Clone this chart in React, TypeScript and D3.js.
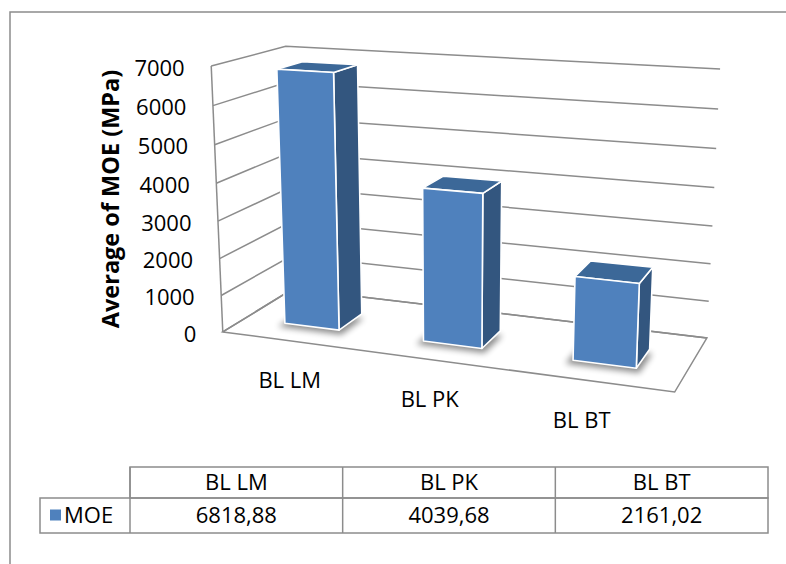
import React from "react";
import * as d3 from "d3";

const categories = ["BL LM", "BL PK", "BL BT"];
const moeValues = [6818.88, 4039.68, 2161.02];
const moeLabels = ["6818,88", "4039,68", "2161,02"];
const seriesName = "MOE";
const yMax = 7000;
const yTitle = "Average of MOE (MPa)";

const W = 786;
const H = 564;
const FONT = "'Open Sans', 'Liberation Sans', sans-serif";
const GRID = "#8c8c8c";

// screen position of the corners of the 3-D plot box
// [u (category axis 0..1), v (value 0..1), w (depth, 0 front .. 1 back), x, y]
const boxCorners = [
  [0, 0, 0, 222.7, 330.7],
  [0, 1, 0, 211, 66.7],
  [1, 0, 0, 675, 392.7],
  [0, 0, 1, 293, 290],
  [0, 1, 1, 286, 45.7],
  [1, 0, 1, 706.7, 337.3],
  [1, 1, 1, 720, 69],
];

// least squares fit of a 3x4 projective matrix (DLT), m34 = 1
function fitProjection(pts: number[][]) {
  const n = 11;
  const N = Array.from({ length: n }, () => new Array(n + 1).fill(0));
  const add = (row: number[], b: number) => {
    for (let i = 0; i < n; i++) {
      for (let j = 0; j < n; j++) N[i][j] += row[i] * row[j];
      N[i][n] += row[i] * b;
    }
  };
  pts.forEach(([X, Y, Z, px, py]) => {
    const x = px / 100, y = py / 100;
    add([X, Y, Z, 1, 0, 0, 0, 0, -x * X, -x * Y, -x * Z], x);
    add([0, 0, 0, 0, X, Y, Z, 1, -y * X, -y * Y, -y * Z], y);
  });
  for (let c = 0; c < n; c++) {
    let p = c;
    for (let r = c + 1; r < n; r++) if (Math.abs(N[r][c]) > Math.abs(N[p][c])) p = r;
    [N[c], N[p]] = [N[p], N[c]];
    for (let r = 0; r < n; r++) {
      if (r === c) continue;
      const f = N[r][c] / N[c][c];
      for (let k = c; k <= n; k++) N[r][k] -= f * N[c][k];
    }
  }
  const m = N.map((row, i) => row[n] / row[i]);
  return (u: number, v: number, w: number): [number, number] => {
    const d = m[8] * u + m[9] * v + m[10] * w + 1;
    return [
      (100 * (m[0] * u + m[1] * v + m[2] * w + m[3])) / d,
      (100 * (m[4] * u + m[5] * v + m[6] * w + m[7])) / d,
    ];
  };
}

const P = fitProjection(boxCorners);
const poly = (pts: [number, number][]) => pts.map((p) => p.join(",")).join(" ");

export default function App() {
  const x = d3.scaleBand<string>().domain(categories).range([0, 1]).paddingInner(0.6).paddingOuter(0.3);
  const y = d3.scaleLinear().domain([0, yMax]).range([0, 1]);
  const ticks = y.ticks(7);
  const wFront = 0.3;
  const wBack = 0.66;

  // data table
  const tblTop = 467, tblMid = 498, tblBot = 533;
  const tblLeft = 40, tblHead = 130, tblRight = 768;
  const col = d3.scaleBand<string>().domain(categories).range([tblHead, tblRight]);

  return (
    <svg width={W} height={H} style={{ position: "absolute", left: 0, top: 0, background: "#fff" }}>
      <defs>
        <filter id="shadow" x="-50%" y="-50%" width="200%" height="200%">
          <feGaussianBlur stdDeviation="3" />
        </filter>
      </defs>
      <rect x={10} y={12} width={800} height={600} fill="#fff" stroke={GRID} strokeWidth={1.5} />

      {/* walls and gridlines */}
      <g stroke={GRID} strokeWidth={1.5} fill="none">
        <polygon points={poly([P(0, 0, 0), P(1, 0, 0), P(1, 0, 1), P(0, 0, 1)])} fill="#fff" />
        {ticks.map((t) => (
          <polyline key={t} points={poly([P(0, y(t), 0), P(0, y(t), 1), P(1, y(t), 1)])} />
        ))}
        <line x1={P(0, 0, 0)[0]} y1={P(0, 0, 0)[1]} x2={P(0, 1, 0)[0]} y2={P(0, 1, 0)[1]} />
      </g>

      {/* tick labels */}
      <g fontFamily={FONT} fontSize={22} textAnchor="end">
        {ticks.map((t) => {
          const [px, py] = P(0, y(t), 0);
          return (
            <text key={t} x={px - 26.5} y={py + 2} dy="0.35em">
              {t}
            </text>
          );
        })}
      </g>
      <text
        transform="translate(111,199) rotate(-90)"
        textAnchor="middle"
        dy="0.35em"
        fontFamily={FONT}
        fontSize={23.5}
        fontWeight="bold"
      >
        {yTitle}
      </text>

      {/* bars */}
      {categories.map((c, i) => {
        const u0 = x(c)!;
        const u1 = u0 + x.bandwidth();
        const v = y(moeValues[i]);
        const shadow = [P(u0 - 0.012, 0, wFront), P(u1 + 0.01, 0, wFront), P(u1 + 0.01, 0, wBack), P(u0 - 0.012, 0, wBack)]
          .map(([a, b]) => [a - 2, b + 4] as [number, number]);
        return (
          <g key={c}>
            <polygon points={poly(shadow)} fill="#000" opacity={0.45} filter="url(#shadow)" />
            <g stroke="#fff" strokeWidth={1.6} strokeLinejoin="round">
              <polygon points={poly([P(u1, 0, wFront), P(u1, 0, wBack), P(u1, v, wBack), P(u1, v, wFront)])} fill="#33567f" />
              <polygon points={poly([P(u0, v, wFront), P(u1, v, wFront), P(u1, v, wBack), P(u0, v, wBack)])} fill="#3c6898" />
              <polygon points={poly([P(u0, 0, wFront), P(u1, 0, wFront), P(u1, v, wFront), P(u0, v, wFront)])} fill="#4f81bd" />
            </g>
          </g>
        );
      })}

      {/* category labels, hung below the front edge of the floor */}
      <g fontFamily={FONT} fontSize={22} textAnchor="middle">
        {categories.map((c) => {
          const uc = x(c)! + x.bandwidth() / 2;
          const [px, py] = P(uc, 0, 0);
          return (
            <text key={c} x={px + 1 - 13 * uc} y={py + 39} dy="0.35em">
              {c}
            </text>
          );
        })}
      </g>

      {/* data table */}
      <g stroke={GRID} strokeWidth={1.5} fill="none">
        <rect x={tblHead} y={tblTop} width={tblRight - tblHead} height={tblMid - tblTop} />
        <rect x={tblLeft} y={tblMid} width={tblRight - tblLeft} height={tblBot - tblMid} />
        {categories.map((c) => (
          <line key={c} x1={col(c)!} y1={tblTop} x2={col(c)!} y2={tblBot} />
        ))}
      </g>
      <g fontFamily={FONT} fontSize={22} textAnchor="middle">
        {categories.map((c, i) => (
          <g key={c}>
            <text x={col(c)! + col.bandwidth() / 2} y={(tblTop + tblMid) / 2} dy="0.35em">
              {c}
            </text>
            <text x={col(c)! + col.bandwidth() / 2} y={(tblMid + tblBot) / 2} dy="0.35em">
              {moeLabels[i]}
            </text>
          </g>
        ))}
      </g>
      <rect x={50} y={(tblMid + tblBot) / 2 - 6} width={11} height={11} fill="#4f81bd" />
      <text x={64} y={(tblMid + tblBot) / 2} dy="0.35em" fontFamily={FONT} fontSize={22}>
        {seriesName}
      </text>
    </svg>
  );
}
